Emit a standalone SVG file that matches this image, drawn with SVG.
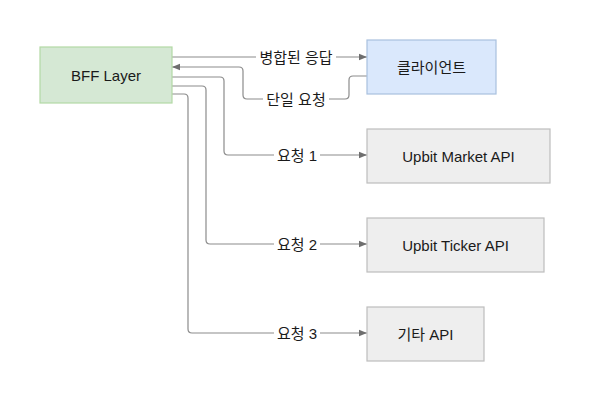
<svg xmlns="http://www.w3.org/2000/svg" width="590" height="401" viewBox="0 0 590 401">
<defs>
<style>
.t{font-family:"Liberation Sans","Noto Sans CJK KR",sans-serif;font-size:15px;fill:#1a1a1a;text-anchor:middle;dominant-baseline:central}
.e{fill:none;stroke:#8c8c8c;stroke-width:1.2}
.lb{fill:#ffffff}
.api{fill:#eeeeee;stroke:#bdbdbd;stroke-width:1.2}
</style>
<marker id="ah" viewBox="0 0 10 10" refX="10" refY="5" markerWidth="8" markerHeight="8" orient="auto" markerUnits="userSpaceOnUse">
<path d="M0,1 L10,5 L0,9 Z" fill="#6e6e6e"/>
</marker>
</defs>
<rect width="590" height="401" fill="#ffffff"/>
<g id="connectors">
<path class="e" d="M172,57 L367,57" marker-end="url(#ah)"/>
<path class="e" d="M367,76 L353,76 Q349,76 349,80 L349,95 Q349,99 345,99 L247,99 Q243,99 243,95 L243,71 Q243,67 239,67 L172,67" marker-end="url(#ah)"/>
<path class="e" d="M172,77 L220,77 Q224,77 224,81 L224,151 Q224,155 228,155 L367,155" marker-end="url(#ah)"/>
<path class="e" d="M172,86 L202,86 Q206,86 206,90 L206,240 Q206,244 210,244 L367,244" marker-end="url(#ah)"/>
<path class="e" d="M172,94 L184,94 Q188,94 188,98 L188,329 Q188,333 192,333 L367,333" marker-end="url(#ah)"/>
<rect class="lb" x="256" y="48" width="80" height="19"/>
<text class="t" x="296" y="57">병합된 응답</text>
<rect class="lb" x="263" y="90" width="66" height="19"/>
<text class="t" x="296" y="99">단일 요청</text>
<rect class="lb" x="274" y="146" width="46" height="19"/>
<text class="t" x="297" y="155">요청 1</text>
<rect class="lb" x="274" y="235" width="46" height="19"/>
<text class="t" x="297" y="244">요청 2</text>
<rect class="lb" x="274" y="324" width="46" height="19"/>
<text class="t" x="297" y="333">요청 3</text>
</g>
<g id="bff">
<rect x="40" y="47" width="132" height="56" fill="#d5e8d4" stroke="#b3d9a5" stroke-width="1.2"/>
<text class="t" x="106" y="75">BFF Layer</text>
</g>
<g id="client">
<rect x="367" y="40" width="129" height="54" fill="#dae8fc" stroke="#a9c0de" stroke-width="1.2"/>
<text class="t" x="431.5" y="67">클라이언트</text>
</g>
<g id="market">
<rect class="api" x="367" y="129" width="183" height="54"/>
<text class="t" x="458.5" y="156">Upbit Market API</text>
</g>
<g id="ticker">
<rect class="api" x="367" y="218" width="177" height="54"/>
<text class="t" x="455.5" y="245">Upbit Ticker API</text>
</g>
<g id="etc">
<rect class="api" x="367" y="307" width="117" height="54"/>
<text class="t" x="425.5" y="334">기타 API</text>
</g>
</svg>
